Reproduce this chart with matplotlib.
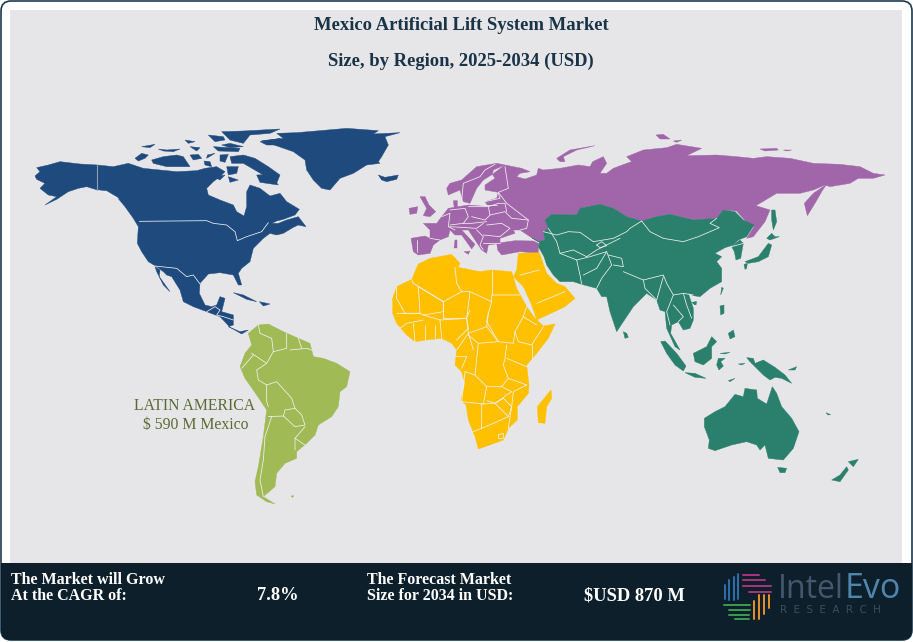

#imports
import matplotlib
matplotlib.use("Agg")
import matplotlib.pyplot as plt
from matplotlib.patches import FancyBboxPatch, Rectangle

#chart texts
title_lines = ["Mexico Artificial Lift System Market", "Size, by Region, 2025-2034 (USD)"]
region_label = ["LATIN AMERICA", "$ 590 M Mexico"]
grow_text = ["The Market will Grow", "At the CAGR of:"]
cagr_value = "7.8%"
forecast_text = ["The Forecast Market", "Size for 2034 in USD:"]
forecast_value = "$USD 870 M"

#map outlines, each group is read in its own 3x crop of the map
#north america: map origin 20,120
na_origin = (20, 120)
na_land = [
    [(45,168),(60,155),(50,143),(85,135),(120,125),(180,132),(232,135),(280,140),(325,130),(370,145),(420,150),
     (470,155),(530,152),(555,145),(590,140),(615,155),(600,170),(580,185),(560,205),(565,225),(600,240),(640,255),
     (650,275),(672,288),(680,260),(680,215),(690,195),(720,205),(750,228),(780,220),(800,245),(838,268),(825,285),
     (790,298),(770,303),(735,320),(750,310),(775,310),(800,300),(835,290),(858,320),(835,315),(820,322),(790,340),
     (770,345),(750,340),(730,355),(700,385),(695,405),(690,425),(665,445),(655,460),(665,495),(655,495),(640,465),
     (600,458),(565,462),(540,490),(538,520),(555,555),(575,560),(590,555),(600,530),(615,535),(605,575),(640,585),
     (640,615),(625,620),(660,635),(685,630),(665,642),(630,622),(600,590),(560,575),(520,560),(490,545),(480,510),
     (455,470),(440,465),(430,455),(410,440),(385,425),(365,395),(352,370),(355,320),(340,295),(315,260),(290,230),
     (260,212),(232,210),(200,200),(175,205),(145,215),(110,238),(75,255),(110,230),(85,225),(60,205),(75,190),(50,178)],
    [(405,440),(420,450),(418,470),(450,515),(430,495),(410,455)],
    [(725,62),(790,55),(770,40),(830,38),(900,32),(980,25),(1075,32),(1060,42),(1140,38),(1095,50),(1105,75),(1085,110),
     (1075,125),(1080,130),(1040,135),(1000,160),(960,175),(930,210),(905,205),(880,180),(860,150),(855,120),(820,95)],
    [(1075,165),(1095,172),(1135,165),(1130,178),(1100,185),(1085,180)],
    [(640,518),(670,525),(710,545),(680,538)],
    [(718,545),(750,552),(730,558)],
]
na_borders = [
    [(358,304),(560,302),(580,310),(620,315),(645,335),(652,362),(680,350),(725,335),(745,308)],
    [(232,210),(260,220),(295,235)],
    [(405,438),(470,445),(500,470),(520,465),(540,492)],
    [(560,575),(585,560),(600,570),(590,585),(610,590),(640,600)],
]
alaska_border = [(232,135),(232,210)]

#canadian arctic: map origin 130,125
arctic_origin = (130, 125)
arctic_land = [
    [(15,100),(35,85),(55,90),(45,100),(25,108)],
    [(65,105),(100,95),(140,90),(160,95),(180,125),(150,125),(110,125),(70,115)],
    [(35,65),(75,58),(60,68)],
    [(85,72),(110,75),(150,72),(130,80),(100,78)],
    [(165,45),(195,50),(175,55)],
    [(180,65),(210,68),(200,78)],
    [(180,90),(205,88),(215,100),(190,105)],
    [(232,90),(255,85),(230,100)],
    [(222,108),(240,110),(245,125),(225,120)],
    [(250,65),(330,70),(325,80),(265,78)],
    [(275,60),(300,55),(340,65),(300,68)],
    [(235,30),(280,35),(285,45),(255,50)],
    [(275,20),(340,18),(450,12),(420,25),(360,30),(340,55),(300,45)],
    [(390,50),(450,40),(450,60),(410,60)],
    [(270,90),(295,88),(285,112),(270,108)],
    [(300,95),(340,90),(375,100),(415,125),(450,150),(440,175),(400,150),(340,115),(305,115)],
    [(290,125),(325,125),(320,145),(295,150)],
    [(295,155),(325,165),(300,172)],
    [(250,155),(285,150),(270,165)],
    [(380,150),(420,148),(445,180),(390,172)],
]

#eurasia: map origin 400,125
ea_origin = (400, 125)
eu_land = [
    [(33,340),(75,333),(90,340),(90,315),(70,295),(110,295),(125,275),(145,250),(205,240),(265,245),(255,230),(290,220),
     (295,202),(255,195),(255,180),(285,160),(277,148),(315,120),(365,130),(390,140),(360,145),(350,155),(375,162),
     (410,150),(415,130),(430,135),(480,130),(535,120),(570,125),(578,110),(610,95),(620,115),(600,145),
     (620,145),(640,130),(680,115),(695,110),(680,95),(730,75),(800,68),(830,58),(905,70),(860,92),(950,90),(1010,95),
     (1060,100),(1100,95),(1170,100),(1240,115),(1320,118),(1380,125),(1420,145),(1455,150),(1420,160),(1375,160),
     (1350,175),(1290,185),(1275,180),(1240,195),(1200,205),(1130,205),(1068,242),(1110,255),(1095,290),(1060,335),
     (1040,340),(1062,305),(1040,292),(1010,258),(970,255),(950,280),(880,285),(810,268),(770,275),(725,288),(680,275),
     (640,250),(600,238),(540,250),(530,270),(455,268),(435,285),(445,310),(430,320),(435,345),(415,350),(390,335),
     (360,315),(340,315),(345,325),(300,340),(300,355),(265,360),(260,385),(245,375),(205,315),(185,315),(225,358),
     (215,372),(185,330),(165,330),(150,315),(145,335),(120,345),(100,360),(90,385),(55,390),(40,380)],
    [(140,190),(150,175),(185,165),(230,125),(290,115),(315,120),(280,135),(277,148),(250,165),(230,190),(210,235),(190,230),
     (180,195),(145,210)],
    [(290,355),(345,347),(400,348),(415,355),(415,385),(360,380),(305,390),(293,375)],
    [(60,215),(75,215),(87,240),(107,260),(90,275),(70,272),(80,250)],
    [(27,250),(53,245),(50,265),(30,268)],
    [(160,227),(172,227),(172,245),(163,250)],
    [(165,345),(172,345),(172,368),(163,368)],
    [(192,380),(210,378),(205,388)],
    [(470,100),(510,75),(585,62),(530,75),(490,95),(495,110),(480,110)],
    [(768,30),(790,28),(810,42),(780,42)],
    [(820,48),(845,45),(830,52)],
    [(1080,72),(1130,70),(1135,75),(1095,78)],
    [(1150,75),(1175,75),(1160,78)],
    [(1280,178),(1268,195),(1245,235),(1222,272),(1213,235),(1240,205)],
]
eu_borders = [
    [(50,345),(50,380)],
    [(90,340),(120,345)],
    [(125,275),(150,265),(145,305),(165,315)],
    [(150,255),(195,250),(205,275),(190,295),(150,300)],
    [(205,245),(265,245),(270,270),(255,285),(215,275)],
    [(190,295),(215,295),(260,290)],
    [(150,305),(230,310),(250,295)],
    [(270,270),(315,260),(335,280),(385,285),(380,310),(360,315)],
    [(265,245),(295,235),(315,235),(320,260)],
    [(255,230),(300,220),(295,205)],
    [(255,240),(290,240)],
    [(260,300),(305,295),(330,310),(300,335),(250,330)],
    [(230,315),(250,335),(240,360),(250,375)],
    [(250,355),(300,355)],
    [(315,125),(325,190),(295,202)],
    [(285,118),(255,135),(240,155),(190,175),(185,225)],
    [(295,202),(320,235),(385,285)],
]
asia_land = [
    [(395,338),(415,350),(435,345),(430,320),(445,310),(435,285),(455,268),(530,270),(540,250),(600,238),(640,250),
     (680,275),(725,288),(770,275),(810,268),(880,285),(950,280),(970,255),(1005,260),(1030,285),(1062,300),(1040,335),
     (1015,345),(1000,360),(975,368),(945,385),(965,395),(950,410),(965,430),(965,470),(930,490),(900,515),(880,512),
     (865,505),(880,550),(880,585),(870,610),(850,615),(835,590),(815,600),(812,625),(840,675),(825,665),(800,610),
     (795,560),(780,555),(770,525),(740,505),(730,515),(700,545),(670,590),(650,620),(630,560),(620,515),(605,515),
     (590,490),(545,478),(520,470),(480,470),(460,450),(440,420),(432,395),(415,365),(418,352)],
    [(965,487),(970,490),(962,510)],
    [(995,365),(1020,345),(1030,355),(1022,400),(1008,405),(1003,380)],
    [(1115,255),(1125,255),(1130,290),(1120,315),(1115,285)],
    [(1100,340),(1115,325),(1125,335),(1138,335),(1110,345)],
    [(1035,410),(1075,395),(1105,355),(1115,360),(1105,395),(1075,410),(1045,415)],
    [(1032,418),(1042,415),(1040,430),(1035,433)],
    [(875,532),(888,530),(885,540)],
]
asia_borders = [
    [(725,288),(750,320),(790,340),(850,350),(895,335),(930,320),(958,308),(930,295),(950,280)],
    [(430,320),(470,330),(505,320),(540,322),(580,350),(640,340),(680,320),(690,310),(725,288)],
    [(445,310),(470,350),(480,385),(520,375),(560,395),(590,375),(620,360),(660,340)],
    [(480,385),(530,405),(540,450),(545,478)],
    [(530,405),(570,395),(620,380),(590,430),(550,450)],
    [(620,380),(635,420),(605,460),(590,490)],
    [(625,390),(665,400),(670,425),(640,420)],
    [(670,440),(730,465),(790,450),(800,475),(820,510),(850,505),(880,510)],
    [(730,465),(735,490),(770,525)],
    [(790,455),(770,525)],
    [(820,510),(800,560),(810,600)],
    [(850,505),(860,540),(875,580)],
    [(820,540),(850,575),(835,590)],
    [(995,365),(1030,355)],
    [(590,360),(605,350),(620,362),(600,368),(590,360)],
]

#africa and arabia: map origin 380,250
af_origin = (380, 250)
af_land = [
    [(38,145),(50,110),(95,88),(115,42),(150,25),(215,13),(240,40),(235,52),(300,65),(335,60),(395,65),(410,115),(440,170),
     (465,205),(490,228),(525,222),(505,265),(470,310),(440,345),(447,405),(445,430),(412,470),(412,510),(385,535),
     (370,570),(295,597),(285,560),(265,510),(258,465),(243,450),(255,400),(245,365),(225,345),(230,300),(215,280),
     (185,265),(155,268),(105,275),(80,255),(50,220),(38,190)],
    [(410,60),(415,10),(478,8),(500,70),(530,100),(555,110),(585,145),(555,170),(470,210),(455,165),(430,110),(400,80)],
    [(513,420),(515,445),(500,470),(495,520),(475,518),(472,470),(490,448)],
]
af_borders = [
    [(95,88),(100,100),(190,155),(245,125),(230,100),(225,52)],
    [(245,125),(270,125),(335,155),(335,135),(420,135)],
    [(335,60),(335,135)],
    [(115,110),(120,190),(75,190),(50,145),(50,110)],
    [(115,110),(190,155),(190,185),(130,195)],
    [(190,155),(190,205),(260,205),(270,125)],
    [(270,180),(260,205),(265,250),(320,230),(325,190),(335,155)],
    [(325,190),(320,215),(355,275),(400,280),(405,245),(430,200),(440,170)],
    [(320,230),(355,275),(295,280),(265,255)],
    [(405,245),(415,275),(455,285),(490,230)],
    [(430,200),(470,225)],
    [(455,285),(455,325)],
    [(380,325),(440,350)],
    [(380,285),(375,325),(370,345),(385,385),(440,405)],
    [(295,280),(285,375),(255,365)],
    [(285,375),(320,410),(365,410),(385,385)],
    [(255,365),(245,455),(310,462),(320,410)],
    [(305,462),(305,535),(280,545)],
    [(305,462),(345,460),(385,500),(340,520),(305,535)],
    [(320,452),(345,460),(395,425),(365,410)],
    [(345,460),(370,445),(395,470),(385,500)],
    [(440,405),(400,425),(395,470),(385,535)],
    [(185,265),(180,210),(260,205),(265,235),(230,270)],
    [(230,300),(265,250),(280,300)],
    [(225,320),(260,320),(245,355)],
    [(50,190),(120,190),(130,195),(180,210)],
    [(135,225),(135,270)],
    [(165,225),(165,265)],
    [(100,220),(105,275)],
    [(60,235),(80,220),(130,210)],
    [(355,555),(370,550),(370,565),(355,565),(355,555)],
    [(478,60),(420,75)],
    [(470,160),(555,125)],
]

#latin america: map origin 120,310
la_origin = (120, 310)
la_land = [
    [(385,70),(415,45),(445,42),(490,65),(535,85),(570,100),(580,140),(610,145),(650,160),(690,185),(680,230),(660,245),
     (655,290),(635,320),(595,345),(585,375),(560,400),(530,425),(530,445),(495,460),(470,490),(465,530),(430,560),
     (465,582),(440,575),(410,555),(405,515),(415,470),(430,380),(440,300),(410,255),(375,205),(360,170),(375,130),(395,105)],
    [(513,558),(521,557),(518,563)],
]
la_borders = [
    [(415,45),(420,70),(455,85),(460,125),(500,115),(500,70)],
    [(510,120),(560,115),(575,120)],
    [(535,85),(545,115)],
    [(395,130),(440,160),(460,125)],
    [(365,175),(400,135)],
    [(440,160),(410,180),(415,210),(440,225),(440,275),(445,290)],
    [(440,225),(470,215),(515,265),(525,295),(495,300),(490,320)],
    [(445,320),(490,318),(525,350),(555,345),(545,315),(525,295)],
    [(455,320),(435,380),(430,450),(420,510),(430,560)],
    [(555,350),(525,385),(525,420)],
    [(525,385),(555,405)],
]

#southeast asia and oceania: map origin 600,290
oc_origin = (600, 290)
oc_land = [
    [(70,125),(80,130),(85,142),(75,145)],
    [(182,155),(195,153),(230,190),(258,228),(250,243),(225,225),(200,190)],
    [(255,248),(285,250),(318,265),(285,262)],
    [(280,190),(320,170),(335,140),(350,155),(335,170),(335,205),(310,225),(285,215)],
    [(355,205),(375,205),(362,215),(370,228),(357,240),(350,225)],
    [(440,203),(460,205),(465,220),(490,210),(525,232),(555,255),(575,280),(545,265),(525,262),(510,270),(490,255),(470,235),(450,215)],
    [(313,385),(345,365),(375,350),(405,313),(430,320),(435,295),(470,300),(472,325),(500,342),(517,290),(530,310),(545,350),
     (575,385),(597,425),(580,475),(550,510),(505,505),(495,465),(480,480),(470,465),(440,455),(395,465),(345,482),(325,475),
     (328,450),(313,410)],
    [(533,532),(560,535),(555,548),(540,548)],
    [(745,515),(775,508),(760,530)],
    [(695,570),(720,555),(740,530),(745,540),(720,575)],
    [(385,130),(400,120),(405,140),(390,147)],
    [(360,48),(372,45),(372,70),(362,75)],
    [(278,38),(290,35),(288,45)],
    [(385,272),(405,265),(390,275)],
    [(565,240),(590,230),(585,240)],
    [(415,222),(435,220),(425,225)],
    [(360,190),(390,187),(375,192)],
    [(678,368),(692,374),(684,375)],
]

#logo bars: map origin 710,562
logo_origin = (710, 562)
logo_bars = {
    "#2f6fb0": [[(45,110),(45,70)], [(58,115),(58,55)], [(72,115),(72,45)], [(85,110),(85,35)]],
    "#a8347f": [[(100,38),(148,38)], [(100,55),(165,55)], [(100,72),(182,72)], [(118,90),(182,90)]],
    "#e8922e": [[(178,100),(178,138)], [(162,100),(162,155)], [(148,100),(148,172)], [(132,118),(132,172)]],
    "#3f9a4e": [[(42,128),(120,128)], [(58,145),(120,145)], [(58,160),(118,160)], [(75,172),(118,172)]],
}


def draw_land(axis, outlines, origin, colour):
    """fills the outlines of a region in its colour"""
    for outline in outlines:
        axis.fill([origin[0] + p[0] / 3 for p in outline], [origin[1] + p[1] / 3 for p in outline],
                  facecolor=colour, edgecolor=colour, linewidth=0.3, zorder=3)


def draw_lines(axis, lines, origin, colour="#f2f2f2", width=0.55, layer=4):
    """draws borders as thin lines over the land"""
    for line in lines:
        axis.plot([origin[0] + p[0] / 3 for p in line], [origin[1] + p[1] / 3 for p in line],
                  color=colour, linewidth=width, zorder=layer, solid_capstyle="round")


fig = plt.figure(figsize=(9.13, 6.42), dpi=100)
ax = fig.add_axes([0, 0, 1, 1])
ax.set_xlim(0, 913)
ax.set_ylim(642, 0)
ax.axis("off")

#card, panel and bottom band
card = FancyBboxPatch((1, 1), 911, 639, boxstyle="round,pad=0,rounding_size=10", facecolor="white",
                      edgecolor="#1c3a4f", linewidth=1.2, zorder=1)
ax.add_patch(card)
ax.add_patch(Rectangle((10, 10), 892, 553, facecolor="#e6e6e8", edgecolor="none", zorder=2))
band = Rectangle((0, 563), 913, 79, facecolor="#0d1f2a", edgecolor="none", zorder=2)
ax.add_patch(band)
band.set_clip_path(card)

#regions
draw_land(ax, eu_land, ea_origin, "#a166a9")
draw_land(ax, asia_land, ea_origin, "#2a7f6d")
draw_land(ax, oc_land, oc_origin, "#2a7f6d")
draw_land(ax, na_land, na_origin, "#1f4a7e")
draw_land(ax, arctic_land, arctic_origin, "#1f4a7e")
draw_land(ax, af_land, af_origin, "#ffc000")
draw_land(ax, la_land, la_origin, "#a0ba55")
draw_lines(ax, na_borders, na_origin)
draw_lines(ax, [alaska_border], na_origin, colour="#8f9db0", width=0.8)
draw_lines(ax, eu_borders, ea_origin)
draw_lines(ax, asia_borders, ea_origin)
draw_lines(ax, af_borders, af_origin)
draw_lines(ax, la_borders, la_origin)

#texts
serif = "Liberation Serif"
ax.text(461, 25, title_lines[0], ha="center", va="center", family=serif, fontweight="bold", fontsize=13.4,
        color="#1a3347", zorder=5)
ax.text(461, 61, title_lines[1], ha="center", va="center", family=serif, fontweight="bold", fontsize=13.4,
        color="#1a3347", zorder=5)
ax.text(195, 406, region_label[0], ha="center", va="center", family=serif, fontsize=11.3, color="#5b6b33", zorder=5)
ax.text(196, 425, region_label[1], ha="center", va="center", family=serif, fontsize=11.3, color="#5b6b33", zorder=5)
ax.text(11, 588, "\n".join(grow_text), ha="left", va="center", family=serif, fontweight="bold", fontsize=11.5,
        color="white", linespacing=0.95, zorder=5)
ax.text(367, 588, "\n".join(forecast_text), ha="left", va="center", family=serif, fontweight="bold", fontsize=11.5,
        color="white", linespacing=0.95, zorder=5)
ax.text(278, 596, cagr_value, ha="center", va="center", family=serif, fontweight="bold", fontsize=13.3, color="white", zorder=5)
ax.text(634.5, 596, forecast_value, ha="center", va="center", family=serif, fontweight="bold", fontsize=13.3, color="white", zorder=5)

#logo
for bar_colour, bars in logo_bars.items():
    draw_lines(ax, bars, logo_origin, colour=bar_colour, width=1.4, layer=5)
ax.text(778, 589, "Intel", ha="left", va="center", family="Open Sans", fontsize=23, color="#46566f", zorder=5)
ax.text(845, 589, "Evo", ha="left", va="center", family="Open Sans", fontsize=24.5, fontweight="medium", color="#4f86ad", zorder=5)
ax.text(780, 610, "R  E  S  E  A  R  C  H", ha="left", va="center", family="DejaVu Sans", fontsize=7.4, color="#3f4d5a", zorder=5)

fig.savefig("out.png", dpi=100)
